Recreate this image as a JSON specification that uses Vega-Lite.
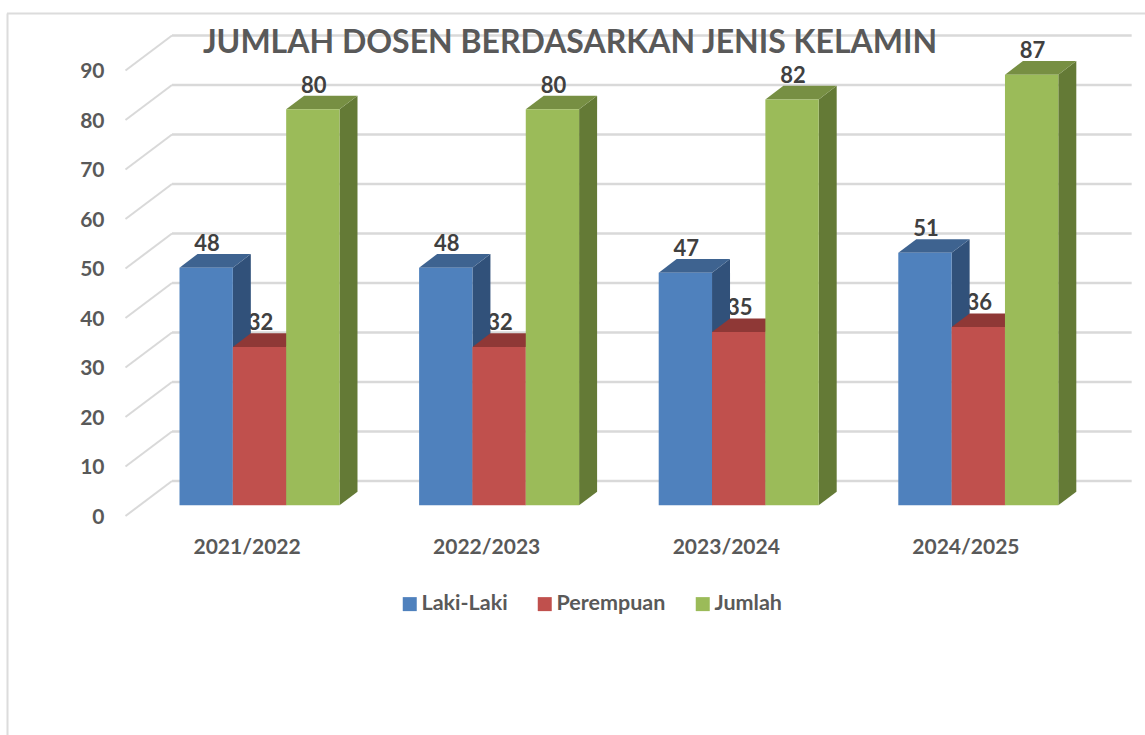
{
"$schema":"https://vega.github.io/schema/vega-lite/v6.json",
"autosize":"none","width":1138,"height":722,
"padding":{"left":7,"top":13,"right":0,"bottom":0},
"background":"white",
"config":{"view":{"stroke":null},"font":"Lato"},
"title":{"text":"JUMLAH DOSEN BERDASARKAN JENIS KELAMIN","anchor":"middle","orient":"top","dx":-6,"dy":62,"baseline":"middle","offset":0,"font":"Lato","fontSize":32,"fontWeight":"bold","color":"#595959"},
"datasets":{
"bars":[
{"year":"2021/2022","series":"Laki-Laki","value":48},{"year":"2021/2022","series":"Perempuan","value":32},{"year":"2021/2022","series":"Jumlah","value":80},
{"year":"2022/2023","series":"Laki-Laki","value":48},{"year":"2022/2023","series":"Perempuan","value":32},{"year":"2022/2023","series":"Jumlah","value":80},
{"year":"2023/2024","series":"Laki-Laki","value":47},{"year":"2023/2024","series":"Perempuan","value":35},{"year":"2023/2024","series":"Jumlah","value":82},
{"year":"2024/2025","series":"Laki-Laki","value":51},{"year":"2024/2025","series":"Perempuan","value":36},{"year":"2024/2025","series":"Jumlah","value":87}],
"ticks":[{"tick":0},{"tick":10},{"tick":20},{"tick":30},{"tick":40},{"tick":50},{"tick":60},{"tick":70},{"tick":80},{"tick":90}],
"frame":[{"top":99.35}]
},
"resolve":{"scale":{"color":"independent"},"axis":{"x":"independent","y":"independent"}},
"layer":[
{"data":{"name":"ticks"},
"transform":[{"calculate":"datum.tick+4.909","as":"back"},{"calculate":"-0.0313","as":"xa"},{"calculate":"3.974","as":"xb"}],
"mark":{"type":"rule","stroke":"#d9d9d9","strokeWidth":2.5},
"encoding":{
"x":{"field":"xa","type":"quantitative","scale":{"domain":[-0.71995,4.02963],"nice":false,"zero":false},
"axis":{"title":null,"grid":false,"domain":false,"ticks":false,"values":[0.28,1.28,2.28,3.28],"labelExpr":"['2021/2022','2022/2023','2023/2024','2024/2025'][round(datum.value-0.28)]","labelPadding":-199,"labelFont":"Lato","labelFontSize":21,"labelFontWeight":"bold","labelColor":"#595959","labelOverlap":false,"labelFlush":false}},
"x2":{"field":"xb"},
"y":{"field":"back","type":"quantitative","scale":{"domain":[-46.404,99.4545],"nice":false,"zero":false},
"axis":{"title":null,"grid":false,"ticks":false,"domain":true,"domainColor":"#dcdcdc","domainWidth":2,"values":[0,10,20,30,40,50,60,70,80,90],"labelPadding":-97,"labelOffset":12,"labelFont":"Lato","labelFontSize":21,"labelFontWeight":"bold","labelColor":"#595959","labelOverlap":false,"labelFlush":false}}
}},
{"data":{"name":"frame"},
"mark":{"type":"rule","stroke":"#dcdcdc","strokeWidth":2},
"encoding":{"y":{"field":"top","type":"quantitative","scale":{"domain":[-46.404,99.4545],"nice":false,"zero":false},"axis":null}}},
{"data":{"name":"ticks"},
"transform":[{"calculate":"datum.tick+4.909","as":"back"},{"calculate":"datum.tick-2.16","as":"front"},{"calculate":"-0.2254","as":"xa"},{"calculate":"-0.0313","as":"xb"}],
"mark":{"type":"rule","stroke":"#d9d9d9","strokeWidth":2},
"encoding":{
"x":{"field":"xa","type":"quantitative","scale":{"domain":[-0.71995,4.02963],"nice":false,"zero":false},"axis":null},
"x2":{"field":"xb"},
"y":{"field":"front","type":"quantitative","scale":{"domain":[-46.404,99.4545],"nice":false,"zero":false},"axis":null},
"y2":{"field":"back"}
}},
{"data":{"name":"bars"},
"transform":[
{"calculate":"indexof(['2021/2022','2022/2023','2023/2024','2024/2025'],datum.year)+indexof(['Laki-Laki','Perempuan','Jumlah'],datum.series)*0.2226+0.1113+0.004","as":"cx"},
{"calculate":"datum.value+4.8","as":"ly"}],
"mark":{"type":"text","font":"Lato","fontSize":22,"fontWeight":"bold","color":"#404040","baseline":"middle","align":"center"},
"encoding":{
"x":{"field":"cx","type":"quantitative","scale":{"domain":[-0.71995,4.02963],"nice":false,"zero":false},"axis":null},
"y":{"field":"ly","type":"quantitative","scale":{"domain":[-46.404,99.4545],"nice":false,"zero":false},"axis":null},
"text":{"field":"value","type":"quantitative"}
}},
{"data":{"name":"bars"},
"transform":[
{"calculate":"indexof(['2021/2022','2022/2023','2023/2024','2024/2025'],datum.year)+indexof(['Laki-Laki','Perempuan','Jumlah'],datum.series)*0.2226","as":"x0"},
{"calculate":"datum.year+datum.series","as":"key"},
{"calculate":"[0,1]","as":"k"},{"flatten":["k"]},
{"calculate":"datum.x0+0.2226+datum.k*0.0751","as":"xx"},
{"calculate":"datum.value+datum.k*2.75","as":"hi"},
{"calculate":"datum.k*2.75","as":"lo"}],
"mark":{"type":"area","opacity":1},
"encoding":{
"x":{"field":"xx","type":"quantitative","scale":{"domain":[-0.71995,4.02963],"nice":false,"zero":false},"axis":null},
"y":{"field":"hi","type":"quantitative","stack":null,"scale":{"domain":[-46.404,99.4545],"nice":false,"zero":false},"axis":null},
"y2":{"field":"lo"},
"detail":{"field":"key"},
"color":{"field":"series","type":"nominal","legend":null,"scale":{"domain":["Laki-Laki","Perempuan","Jumlah"],"range":["#31517a","#8c3836","#647a36"]}}
}},
{"data":{"name":"bars"},
"transform":[
{"calculate":"indexof(['2021/2022','2022/2023','2023/2024','2024/2025'],datum.year)+indexof(['Laki-Laki','Perempuan','Jumlah'],datum.series)*0.2226","as":"x0"},
{"calculate":"datum.year+datum.series","as":"key"},
{"calculate":"[0,1,2,3]","as":"k"},{"flatten":["k"]},
{"calculate":"datum.x0+[0,0.0751,0.2226,0.2977][datum.k]","as":"xx"},
{"calculate":"datum.value+[0,2.75,2.75,2.75][datum.k]","as":"hi"},
{"calculate":"datum.value+[0,0,0,2.75][datum.k]","as":"lo"}],
"mark":{"type":"area","opacity":1},
"encoding":{
"x":{"field":"xx","type":"quantitative","scale":{"domain":[-0.71995,4.02963],"nice":false,"zero":false},"axis":null},
"y":{"field":"hi","type":"quantitative","stack":null,"scale":{"domain":[-46.404,99.4545],"nice":false,"zero":false},"axis":null},
"y2":{"field":"lo"},
"detail":{"field":"key"},
"color":{"field":"series","type":"nominal","legend":null,"scale":{"domain":["Laki-Laki","Perempuan","Jumlah"],"range":["#3e6390","#8f3836","#778f43"]}}
}},
{"data":{"name":"bars"},
"transform":[
{"calculate":"indexof(['2021/2022','2022/2023','2023/2024','2024/2025'],datum.year)+indexof(['Laki-Laki','Perempuan','Jumlah'],datum.series)*0.2226","as":"x0"},
{"calculate":"datum.x0+0.2226","as":"x1"}],
"mark":{"type":"rect"},
"encoding":{
"x":{"field":"x0","type":"quantitative","scale":{"domain":[-0.71995,4.02963],"nice":false,"zero":false},"axis":null},
"x2":{"field":"x1"},
"y":{"field":"value","type":"quantitative","stack":null,"scale":{"domain":[-46.404,99.4545],"nice":false,"zero":false},"axis":null},
"y2":{"datum":0},
"color":{"field":"series","type":"nominal","title":null,"scale":{"domain":["Laki-Laki","Perempuan","Jumlah"],"range":["#4f81bd","#c0504d","#9bbb59"]},
"legend":{"orient":"none","legendX":392,"legendY":580,"direction":"horizontal","symbolType":"square","symbolSize":196,"symbolStrokeWidth":0,"labelFont":"Lato","labelFontSize":21.5,"labelFontWeight":"bold","labelColor":"#595959","labelOffset":1,"columnPadding":26,"symbolOpacity":1}}
}}
]
}
